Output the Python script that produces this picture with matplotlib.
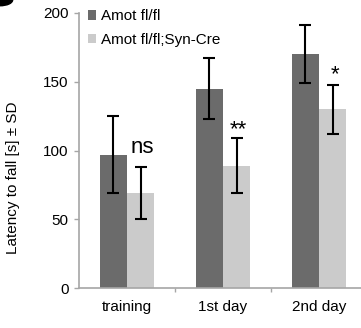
import numpy as np
import matplotlib.pyplot as plt
from matplotlib.patches import Ellipse

plt.rcParams['font.family'] = ['Liberation Sans', 'DejaVu Sans']

categories = ['training', '1st day', '2nd day']
labels = ['Amot fl/fl', 'Amot fl/fl;Syn-Cre']
ctrl_mean = [97, 145, 170]
ctrl_sd = [28, 22, 21]
cre_mean = [69, 89, 130]
cre_sd = [19, 20, 18]
signif = ['ns', '**', '*']
signif_y = [98, 111, 151]

dark = '#6b6b6b'
light = '#cbcbcb'
grey = '#a6a6a6'

fig = plt.figure(figsize=(3.61, 3.28), dpi=100)
ax = fig.add_axes([79/361, 40/328, 288/361, 275/328])

x = np.arange(len(categories))
w = 0.286
ax.bar(x - w/2, ctrl_mean, w, color=dark, label=labels[0])
ax.bar(x + w/2, cre_mean, w, color=light, label=labels[1])
ax.errorbar(x - w/2, ctrl_mean, yerr=ctrl_sd, fmt='none', ecolor='black',
            elinewidth=1.5, capsize=4.5, capthick=1.5)
ax.errorbar(x + w/2, cre_mean, yerr=cre_sd, fmt='none', ecolor='black',
            elinewidth=1.5, capsize=4.5, capthick=1.5)

# significance marks above the Cre bars
for i, s in enumerate(signif):
    ax.text(x[i] + w/2 + 0.02, signif_y[i], s, ha='center', va='baseline', fontsize=16)

ax.set_xlim(-0.5, 2.5)
ax.set_ylim(0, 200)
ax.set_yticks([0, 50, 100, 150, 200])
ax.set_xticks(x)
ax.set_xticklabels(categories, fontsize=11)
ax.set_xticks([0.5, 1.5], minor=True)
ax.tick_params(axis='x', which='major', length=0, pad=9)
ax.tick_params(axis='x', which='minor', length=3, color=grey, width=1)
ax.tick_params(axis='y', length=3.5, color=grey, width=1, labelsize=11, pad=4)
for s in ['top', 'right']:
    ax.spines[s].set_visible(False)
for s in ['left', 'bottom']:
    ax.spines[s].set_color(grey)
    ax.spines[s].set_linewidth(1.2)

ax.set_ylabel('Latency to fall [s] \u00b1 SD', fontsize=11)
ax.yaxis.set_label_coords(-0.205, 0.40)

ax.legend(loc='upper left', bbox_to_anchor=(0.01, 1.035), frameon=False,
          fontsize=11, handlelength=0.55, handleheight=0.55,
          handletextpad=0.3, labelspacing=0.6, borderaxespad=0)

# corner of the panel letter, cut off in the original
fig.patches.append(Ellipse((0.0, 1.0), 0.07, 0.035, transform=fig.transFigure,
                           color='black', zorder=5))

fig.savefig('out.png', dpi=100)
